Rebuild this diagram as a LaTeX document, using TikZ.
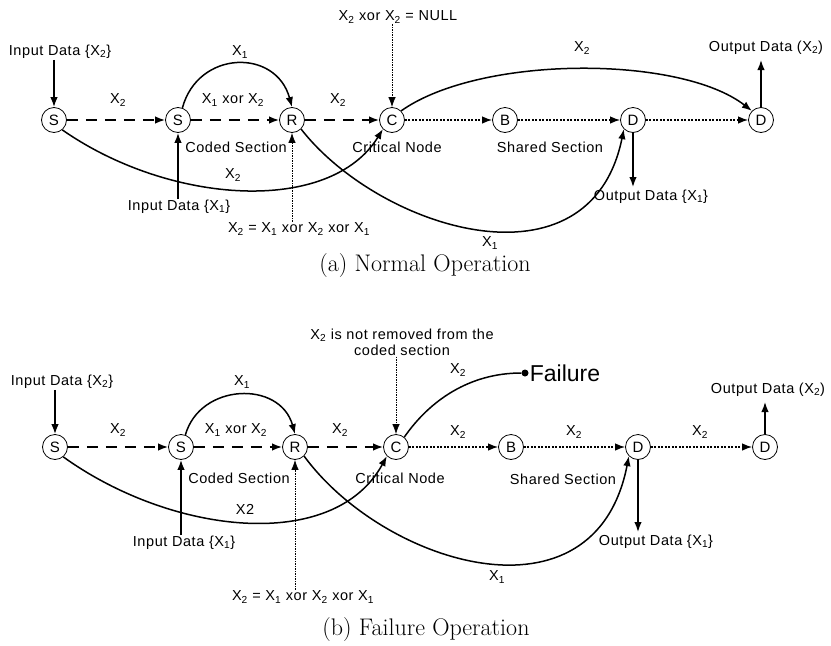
\documentclass[tikz,border=0pt]{standalone}
\usepackage{fontspec}
\newfontfamily\dfont[LetterSpace=4]{Liberation Sans}
\usetikzlibrary{arrows.meta}
\newcommand{\Xsub}[1]{X\textsubscript{#1}}
\begin{document}
\begin{tikzpicture}[x=1pt,y=-1pt,
  nd/.style={circle,draw,line width=0.8pt,minimum size=25pt,inner sep=0pt,font=\dfont\fontsize{15}{15}\selectfont},
  lbl/.style={font=\dfont\fontsize{14.5}{16}\selectfont,inner sep=1pt},
  capt/.style={font=\fontsize{24}{26}\selectfont},
  tipa/.style={-{Latex[length=10pt,width=7.5pt]}},
  dsh/.style={tipa,line width=1.6pt,dash pattern=on 11pt off 8pt},
  dotl/.style={tipa,line width=1.3pt,dash pattern=on 2pt off 1.5pt},
  sol/.style={tipa,line width=1.5pt},
  fineln/.style={tipa,line width=0.8pt,dash pattern=on 1.5pt off 1pt}]
\useasboundingbox (0,0) rectangle (831,646);
% ================= (a) =================
\node[nd] (aS1) at (54,120) {S};
\node[nd] (aS2) at (178,120) {S};
\node[nd] (aR) at (292,120) {R};
\node[nd] (aC) at (392,120) {C};
\node[nd] (aB) at (505,120) {B};
\node[nd] (aD1) at (633,120) {D};
\node[nd] (aD2) at (761,120) {D};
\node[lbl] (ain2) at (60,52) {Input Data \{\Xsub{2}\}};
\node[lbl] (ain1) at (179,207) {Input Data \{\Xsub{1}\}};
\node[lbl] (aout2) at (766,48) {Output Data (\Xsub{2})};
\node[lbl] (aout1) at (651,197) {Output Data \{\Xsub{1}\}};
\node[lbl] (anull) at (398,17) {\Xsub{2} xor \Xsub{2} = NULL};
\node[lbl] (aeq) at (299,229) {\Xsub{2} = \Xsub{1} xor \Xsub{2} xor \Xsub{1}};
\node[lbl] (acs) at (236,147) {Coded Section};
\node[lbl] (acn) at (397,147) {Critical Node};
\node[lbl] (ass) at (550,147) {Shared Section};
\node[lbl] (al1) at (118,100) {\Xsub{2}};
\node[lbl] (al2) at (233,100) {\Xsub{1} xor \Xsub{2}};
\node[lbl] (al3) at (338,100) {\Xsub{2}};
\node[lbl] (al4) at (240,52) {\Xsub{1}};
\node[lbl] (al5) at (582,48) {\Xsub{2}};
\node[lbl] (al6) at (233,175) {\Xsub{2}};
\node[lbl] (al7) at (490,243) {\Xsub{1}};
\coordinate (aout1e) at (633,187);
\coordinate (aout2e) at (761,60);
\draw[sol] (ain2.south -| aS1) -- (aS1.north);
\draw[dsh] (aS1) -- (aS2);
\draw[dsh] (aS2) -- (aR);
\draw[dsh] (aR) -- (aC);
\draw[dotl] (aC) -- (aB);
\draw[dotl] (aB) -- (aD1);
\draw[dotl] (aD1) -- (aD2);
\draw[sol] (aS2.70) .. controls (198,50) and (276,48) .. (aR.north);
\draw[sol] (aC.45) .. controls (480,55) and (680,55) .. (aD2.135);
\draw[sol] (aS1.-50) .. controls (170,205) and (330,215) .. (aC.-135);
\draw[sol] (aR.-45) .. controls (380,230) and (590,295) .. (aD1.-135);
\draw[sol] (ain1.north -| aS2) -- (aS2.south);
\draw[sol] (aD1.south) -- (aout1e);
\draw[sol] (aD2.north) -- (aout2e);
\draw[fineln] (anull.south -| aC) -- (aC.north);
\draw[fineln] (aeq.north -| aR) -- (aR.south);
\node[capt] (acap) at (425,266) {(a) Normal Operation};
% ================= (b) =================
\node[nd] (bS1) at (55,447) {S};
\node[nd] (bS2) at (181,447) {S};
\node[nd] (bR) at (295,447) {R};
\node[nd] (bC) at (396,447) {C};
\node[nd] (bB) at (511,447) {B};
\node[nd] (bD1) at (638,447) {D};
\node[nd] (bD2) at (765,447) {D};
\node[lbl] (bin2) at (62,382) {Input Data \{\Xsub{2}\}};
\node[lbl] (bin1) at (184,543) {Input Data \{\Xsub{1}\}};
\node[lbl] (bout2) at (768,390) {Output Data (\Xsub{2})};
\node[lbl] (bout1) at (656,542) {Output Data \{\Xsub{1}\}};
\node[lbl,align=center] (bnote) at (402,342) {\Xsub{2} is not removed from the\\coded section};
\node[lbl] (beq) at (303,597) {\Xsub{2} = \Xsub{1} xor \Xsub{2} xor \Xsub{1}};
\node[lbl] (bcs) at (239,478) {Coded Section};
\node[lbl] (bcn) at (400,478) {Critical Node};
\node[lbl] (bss) at (563,479) {Shared Section};
\node[lbl] (bl1) at (118,430) {\Xsub{2}};
\node[lbl] (bl2) at (236,430) {\Xsub{1} xor \Xsub{2}};
\node[lbl] (bl3) at (340,430) {\Xsub{2}};
\node[lbl] (bl4) at (242,382) {\Xsub{1}};
\node[lbl] (bl5) at (458,432) {\Xsub{2}};
\node[lbl] (bl6) at (574,432) {\Xsub{2}};
\node[lbl] (bl7) at (700,432) {\Xsub{2}};
\node[lbl] (bl8) at (458,370) {\Xsub{2}};
\node[lbl] (bl9) at (245,509) {X2};
\node[lbl] (bl10) at (497,577) {\Xsub{1}};
\node[circle,fill,inner sep=0pt,minimum size=7pt] (bfd) at (525,373) {};
\node[font=\fontspec{Liberation Sans}\fontsize{23}{23}\selectfont,anchor=west,inner sep=1pt] (bfail) at (bfd.east) {Failure};
\coordinate (bout1e) at (638,532);
\coordinate (bout2e) at (765,402);
\draw[sol] (bin2.south -| bS1) -- (bS1.north);
\draw[dsh] (bS1) -- (bS2);
\draw[dsh] (bS2) -- (bR);
\draw[dsh] (bR) -- (bC);
\draw[dotl] (bC) -- (bB);
\draw[dotl] (bB) -- (bD1);
\draw[dotl] (bD1) -- (bD2);
\draw[sol] (bS2.70) .. controls (200,383) and (280,380) .. (bR.north);
\draw[line width=1.5pt] (bC.50) .. controls (430,400) and (470,373) .. (bfd);
\draw[sol] (bS1.-50) .. controls (172,535) and (334,553) .. (bC.-135);
\draw[sol] (bR.-45) .. controls (384,565) and (595,630) .. (bD1.-135);
\draw[sol] (bin1.north -| bS2) -- (bS2.south);
\draw[sol] (bD1.south) -- (bout1e);
\draw[sol] (bD2.north) -- (bout2e);
\draw[fineln] (bnote.south -| bC) -- (bC.north);
\draw[fineln] (beq.north -| bR) -- (bR.south);
\node[capt] (bcap) at (426,630) {(b) Failure Operation};
\end{tikzpicture}
\end{document}
